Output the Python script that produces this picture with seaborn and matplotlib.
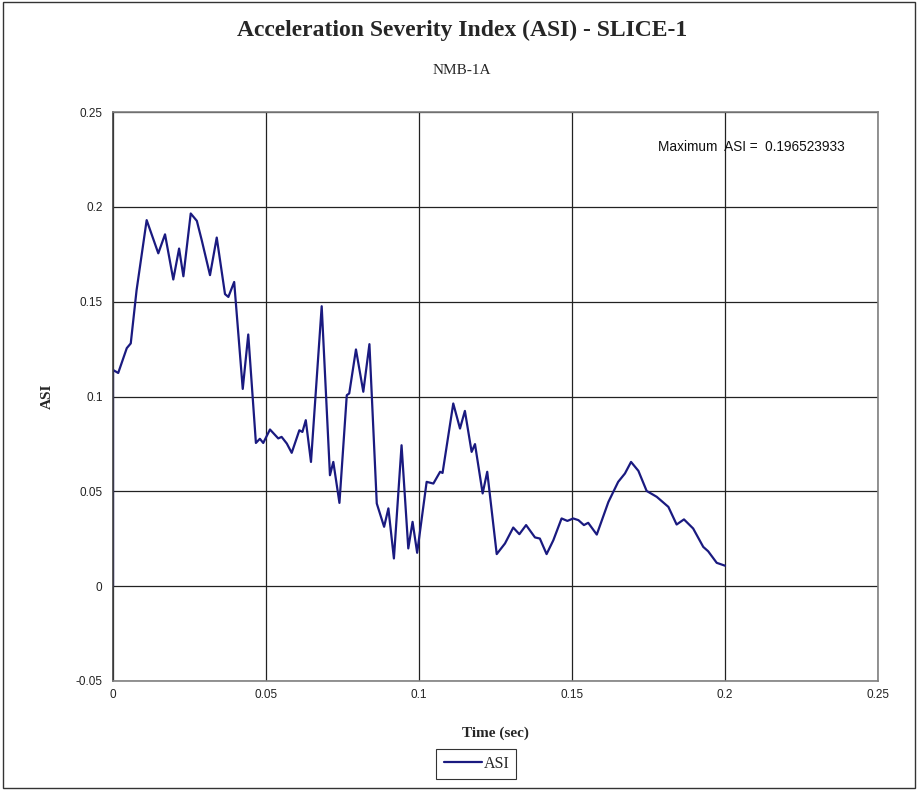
import pandas as pd
import numpy as np
import seaborn as sns
import matplotlib.pyplot as plt
from matplotlib.patches import Rectangle

# values
time_sec = [0.0, 0.0, 0.0017, 0.0045, 0.0058, 0.0077, 0.011, 0.0148, 0.017, 0.0197,
            0.0216, 0.023, 0.0254, 0.0274, 0.029, 0.0317, 0.0339, 0.0366, 0.0377, 0.0396,
            0.0424, 0.0442, 0.0467, 0.048, 0.0491, 0.0513, 0.054, 0.0551, 0.0568, 0.0584,
            0.0609, 0.0619, 0.063, 0.0647, 0.0682, 0.0709, 0.072, 0.074, 0.0764, 0.0772,
            0.0794, 0.0818, 0.0838, 0.0862, 0.0886, 0.09, 0.0918, 0.0943, 0.0965, 0.0979,
            0.0994, 0.1025, 0.1047, 0.1069, 0.1077, 0.1112, 0.1134, 0.115, 0.1172, 0.1183,
            0.1208, 0.1223, 0.1254, 0.1281, 0.1308, 0.1328, 0.135, 0.1379, 0.1395, 0.1417,
            0.1439, 0.1466, 0.1485, 0.1504, 0.1521, 0.1539, 0.1553, 0.1581, 0.1619, 0.1651,
            0.1673, 0.1693, 0.1717, 0.1744, 0.1777, 0.1815, 0.1842, 0.1866, 0.1896, 0.1929,
            0.1945, 0.1973, 0.2]
asi = [0.0, 0.114, 0.1124, 0.1255, 0.128, 0.156, 0.193, 0.1755, 0.1855, 0.1617,
       0.178, 0.1634, 0.1965, 0.1926, 0.1824, 0.164, 0.1838, 0.154, 0.1525, 0.1604,
       0.104, 0.1327, 0.0755, 0.0777, 0.0755, 0.0826, 0.0779, 0.0787, 0.0752, 0.0703,
       0.0822, 0.0813, 0.0875, 0.0655, 0.1476, 0.0585, 0.0655, 0.0439, 0.1007, 0.1016,
       0.1248, 0.1025, 0.1276, 0.0436, 0.0313, 0.041, 0.0146, 0.0743, 0.0199, 0.0339,
       0.0176, 0.055, 0.0541, 0.0603, 0.0597, 0.0963, 0.0831, 0.0924, 0.0708, 0.0749,
       0.0489, 0.0603, 0.0169, 0.0225, 0.0309, 0.0274, 0.0322, 0.0257, 0.0251, 0.0169,
       0.0242, 0.0357, 0.0344, 0.0357, 0.0348, 0.0322, 0.0334, 0.0272, 0.0444, 0.055,
       0.0594, 0.0655, 0.0608, 0.0502, 0.0471, 0.0418, 0.0325, 0.0352, 0.0304, 0.0207,
       0.0184, 0.0123, 0.0108]

x_ticks = [0, 0.05, 0.1, 0.15, 0.2, 0.25]
y_ticks = [-0.05, 0, 0.05, 0.1, 0.15, 0.2, 0.25]
max_asi = 0.196523933

df = pd.DataFrame({'Time (sec)': time_sec, 'ASI': asi})

sns.set_style('white')
serif = ['Liberation Serif', 'DejaVu Serif']
sans = ['Liberation Sans', 'DejaVu Sans']
plt.rcParams['font.family'] = sans

fig = plt.figure(figsize=(9.18, 7.9), dpi=100)
ax = fig.add_axes([0.1231, 0.138, 0.8333, 0.7202])

sns.lineplot(data=df, x='Time (sec)', y='ASI', ax=ax, color='#1a1a80',
             linewidth=1.6, sort=False, label='ASI', estimator=None,
             solid_joinstyle='round')

ax.set_xlim(0, 0.25)
ax.set_ylim(-0.05, 0.25)
ax.set_xticks(x_ticks)
ax.set_yticks(y_ticks)
ax.set_xticklabels(['0', '0.05', '0.1', '0.15', '0.2', '0.25'])
ax.set_yticklabels(['-0.05', '0', '0.05', '0.1', '0.15', '0.2', '0.25'])
ax.tick_params(axis='both', labelsize=8.5, colors='#222222', length=4, width=0.8,
               direction='out')
ax.tick_params(axis='x', length=0, pad=6)
ax.grid(True, color='#222222', linewidth=0.9)
ax.set_axisbelow(True)
for side in ['top', 'right', 'bottom']:
    ax.spines[side].set_color('#808080')
    ax.spines[side].set_linewidth(1.2)
ax.spines['left'].set_color('#404040')
ax.spines['left'].set_linewidth(1.2)

ax.set_xlabel('Time (sec)', family=serif, fontweight='bold', fontsize=11, labelpad=18)
ax.set_ylabel('ASI', family=serif, fontweight='bold', fontsize=11, labelpad=16)

ax.text(0.178, 0.2314, f'Maximum  ASI =  {max_asi}', fontsize=9.8, va='center',
        ha='left', color='#111111')

fig.text(0.503, 0.962, 'Acceleration Severity Index (ASI) - SLICE-1', family=serif,
         fontweight='bold', fontsize=17, ha='center', va='center')
fig.text(0.503, 0.911, 'NMB-1A', family=serif, fontsize=11, ha='center', va='center')

leg = ax.legend(loc='center', bbox_to_anchor=(0.519, 0.033),
                bbox_transform=fig.transFigure, prop={'family': serif, 'size': 11.5},
                frameon=True, fancybox=False, handlelength=2.4, handletextpad=0.1,
                borderpad=0.45)
leg.get_frame().set_edgecolor('black')
leg.get_frame().set_linewidth(0.8)

fig.patches.append(Rectangle((0.003, 0.003), 0.994, 0.994, transform=fig.transFigure,
                             fill=False, edgecolor='#333333', linewidth=1.0))

fig.savefig('out.png', dpi=100)
